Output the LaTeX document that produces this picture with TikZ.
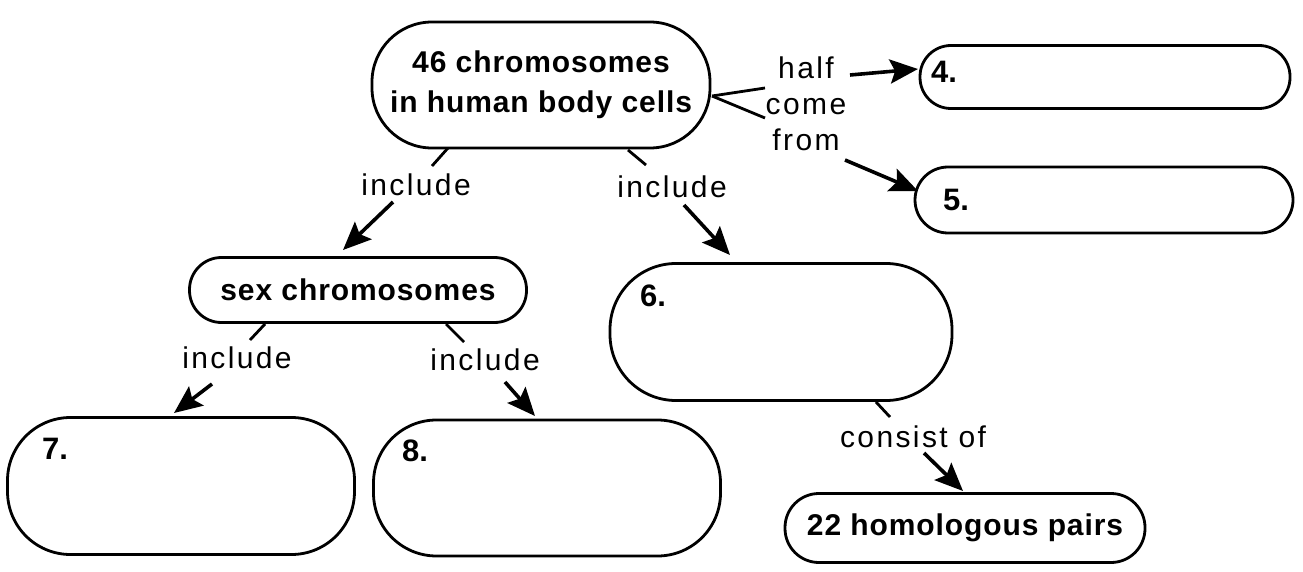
\documentclass[tikz,border=0pt]{standalone}
\usepackage{fontspec}
\setmainfont{Liberation Sans}
\usetikzlibrary{arrows.meta}
\begin{document}
\begin{tikzpicture}[x=1pt,y=-1pt,
  pill/.style={draw, line width=2.8pt, rounded corners=#1, inner sep=0pt, align=center},
  boxtxt/.style={font=\fontsize{30}{40}\selectfont\bfseries\addfontfeatures{LetterSpace=3}},
  lab/.style={font=\fontsize{30}{36}\selectfont\addfontfeatures{LetterSpace=8}, align=center, inner sep=0pt},
  numtxt/.style={font=\fontsize{31}{30}\selectfont\bfseries, inner sep=0pt, anchor=west},
  arr/.style={line width=3.6pt, -{Stealth[length=28pt,width=24pt,inset=5pt]}},
  ln/.style={line width=2.8pt}]
\useasboundingbox (0,0) rectangle (1303,572);
% boxes
\node[pill=60, boxtxt, minimum width=338pt, minimum height=126pt] (top) at (541,85) {46 chromosomes\\in human body cells};
\node[pill=31, minimum width=370pt, minimum height=63pt] (b4) at (1105,77) {};
\node[pill=33, minimum width=378pt, minimum height=66pt] (b5) at (1104,200) {};
\node[pill=32, boxtxt, minimum width=337pt, minimum height=65pt] (sex) at (358,290) {sex chromosomes};
\node[pill=66, minimum width=342pt, minimum height=137pt] (b6) at (781,332) {};
\node[pill=63, minimum width=347pt, minimum height=137pt] (b7) at (181,486) {};
\node[pill=63, minimum width=347pt, minimum height=136pt] (b8) at (547,488) {};
\node[pill=34, boxtxt, minimum width=360pt, minimum height=69pt] (b22) at (965,528) {22 homologous pairs};
% numbers
\node[numtxt] (n4) at (931,72) {4.};
\node[numtxt] (n5) at (943,200) {5.};
\node[numtxt] (n6) at (640,296) {6.};
\node[numtxt] (n7) at (42,449) {7.};
\node[numtxt] (n8) at (402,451) {8.};
% labels
\node[lab] (hcf) at (806,104) {half\\come\\from};
\node[lab] (inc1) at (416,185) {include};
\node[lab] (inc2) at (672,187) {include};
\node[lab] (inc3) at (237,358) {include};
\node[lab] (inc4) at (485,360) {include};
\node[lab] (cons) at (913,437) {consist of};
% connector points
\coordinate (h1) at (765,88);
\coordinate (h2) at (765,118);
\coordinate (t1a) at (448,148); \coordinate (t1b) at (432,166);
\coordinate (t1c) at (393,202); \coordinate (t1d) at (343,250);
\coordinate (t2a) at (628,150); \coordinate (t2b) at (646,165);
\coordinate (t2c) at (684,205); \coordinate (t2d) at (730,255);
\coordinate (s1a) at (265,324); \coordinate (s1b) at (250,340);
\coordinate (s1c) at (212,384); \coordinate (s1d) at (174,413);
\coordinate (s2a) at (446,324); \coordinate (s2b) at (464,342);
\coordinate (s2c) at (505,382); \coordinate (s2d) at (535,416);
\coordinate (c1a) at (876,402); \coordinate (c1b) at (890,417);
\coordinate (c1c) at (924,453); \coordinate (c1d) at (963,491);
\coordinate (ha) at (850,75); \coordinate (hb) at (918,69);
\coordinate (fa) at (845,160); \coordinate (fb) at (918,191);
\coordinate (te) at (712,96);
% connectors
\draw[ln] (te) -- (h1);
\draw[ln] (te) -- (h2);
\draw[arr] (ha) -- (hb);
\draw[arr] (fa) -- (fb);
\draw[ln] (t1a) -- (t1b);
\draw[arr] (t1c) -- (t1d);
\draw[ln] (t2a) -- (t2b);
\draw[arr] (t2c) -- (t2d);
\draw[ln] (s1a) -- (s1b);
\draw[arr] (s1c) -- (s1d);
\draw[ln] (s2a) -- (s2b);
\draw[arr] (s2c) -- (s2d);
\draw[ln] (c1a) -- (c1b);
\draw[arr] (c1c) -- (c1d);
\end{tikzpicture}
\end{document}
